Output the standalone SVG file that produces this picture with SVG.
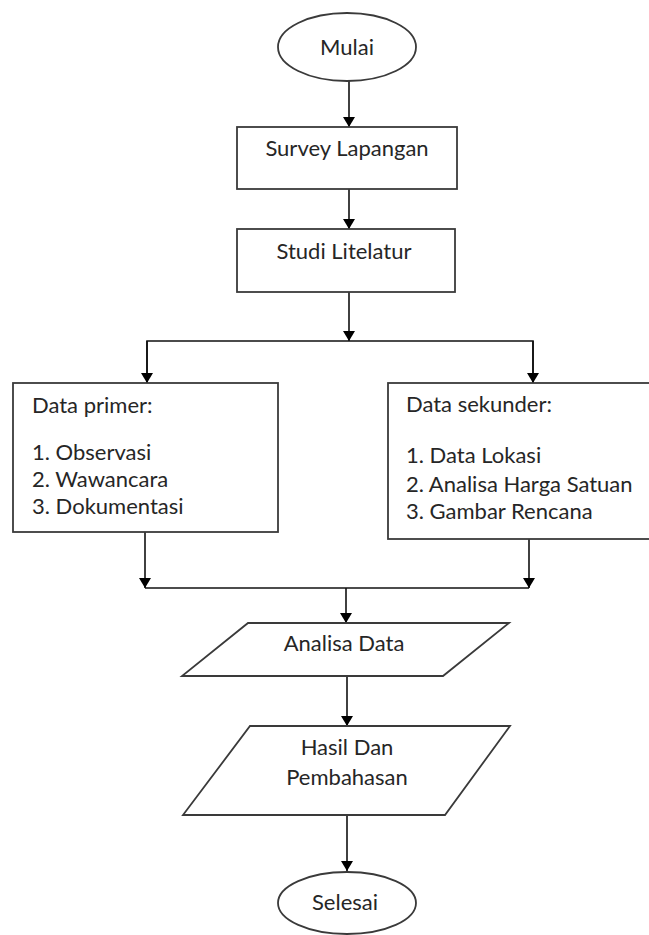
<svg xmlns="http://www.w3.org/2000/svg" width="649" height="935" viewBox="0 0 649 935">
<defs>
<marker id="ah" viewBox="0 0 10 12" refX="10" refY="6" markerWidth="10" markerHeight="12" markerUnits="userSpaceOnUse" orient="auto">
<path d="M0,0 L10,6 L0,12 Z" fill="#000"/>
</marker>
<style>
.shape{fill:#fff;stroke:#3a3a3a;stroke-width:1.8}
.ln{fill:none;stroke:#111;stroke-width:1.6}
.t{font-family:Lato,"Open Sans",sans-serif;font-size:22px;fill:#262626}
.c{text-anchor:middle}
</style>
</defs>
<rect width="649" height="935" fill="#fff"/>
<g id="connectors">
<line class="ln" x1="349" y1="81" x2="349" y2="127" marker-end="url(#ah)"/>
<line class="ln" x1="349" y1="189" x2="349" y2="229" marker-end="url(#ah)"/>
<line class="ln" x1="349" y1="292" x2="349" y2="341" marker-end="url(#ah)"/>
<polyline class="ln" points="147,383 147,341 533,341 533,383"/>
<line class="ln" x1="147" y1="341" x2="147" y2="383" marker-end="url(#ah)"/>
<line class="ln" x1="533" y1="341" x2="533" y2="383" marker-end="url(#ah)"/>
<line class="ln" x1="145" y1="532" x2="145" y2="588" marker-end="url(#ah)"/>
<line class="ln" x1="529" y1="539" x2="529" y2="588" marker-end="url(#ah)"/>
<line class="ln" x1="145" y1="588" x2="529" y2="588"/>
<line class="ln" x1="346" y1="588" x2="346" y2="623" marker-end="url(#ah)"/>
<line class="ln" x1="347" y1="676" x2="347" y2="726" marker-end="url(#ah)"/>
<line class="ln" x1="347" y1="815" x2="347" y2="871" marker-end="url(#ah)"/>
</g>
<g id="mulai">
<ellipse class="shape" cx="347" cy="47" rx="69" ry="34"/>
<text class="t c" x="347" y="55">Mulai</text>
</g>
<g id="survey">
<rect class="shape" x="237" y="127" width="220" height="62"/>
<text class="t c" x="347" y="156">Survey Lapangan</text>
</g>
<g id="studi">
<rect class="shape" x="237" y="229" width="218" height="63"/>
<text class="t c" x="344" y="259">Studi Litelatur</text>
</g>
<g id="primer">
<rect class="shape" x="13" y="383" width="265" height="149"/>
<text class="t" x="32" y="413">Data primer:</text>
<text class="t" x="32" y="460">1. Observasi</text>
<text class="t" x="32" y="487">2. Wawancara</text>
<text class="t" x="32" y="514">3. Dokumentasi</text>
</g>
<g id="sekunder">
<rect class="shape" x="388" y="383" width="266" height="156"/>
<text class="t" x="406" y="412">Data sekunder:</text>
<text class="t" x="406" y="463">1. Data Lokasi</text>
<text class="t" x="406" y="492">2. Analisa Harga Satuan</text>
<text class="t" x="406" y="519">3. Gambar Rencana</text>
</g>
<g id="analisa">
<polygon class="shape" points="248,623 509,623 443,676 182,676"/>
<text class="t c" x="344" y="651">Analisa Data</text>
</g>
<g id="hasil">
<polygon class="shape" points="250,726 510,726 445,815 183,815"/>
<text class="t c" x="347" y="755">Hasil Dan</text>
<text class="t c" x="347" y="785">Pembahasan</text>
</g>
<g id="selesai">
<ellipse class="shape" cx="347" cy="903" rx="69" ry="31"/>
<text class="t c" x="345" y="910">Selesai</text>
</g>
</svg>
